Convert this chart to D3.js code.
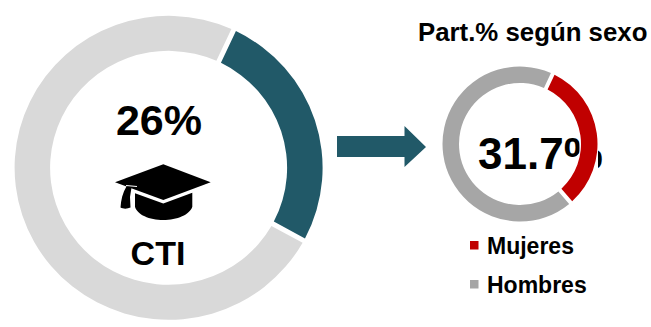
<!DOCTYPE html>
<html>
<head>
<meta charset="utf-8">
<script src="https://cdn.jsdelivr.net/npm/d3@7"></script>
<style>
  html, body { margin: 0; padding: 0; background: #fff; }
  svg { display: block; }
  text { font-family: "Liberation Sans", Arial, sans-serif; font-weight: bold; fill: #000; }
</style>
</head>
<body>
<svg></svg>
<script>
const ctiLabels = ['CTI', 'Resto'];
const ctiValues = [26, 74];
const sexLabels = ['Mujeres', 'Hombres'];
const sexValues = [31.7, 68.3];

const svg = d3.select('svg')
    .attr('width', 651)
    .attr('height', 327);

const startAngle = 25 * Math.PI / 180;

const pie = d3.pie()
    .sort(null)
    .startAngle(startAngle)
    .endAngle(startAngle + 2 * Math.PI);

function drawDonut(values, labels, colors, cx, cy, inner, outer, pad, sy) {
    const color = d3.scaleOrdinal().domain(labels).range(colors);
    const arc = d3.arc()
        .innerRadius(inner)
        .outerRadius(outer)
        .padAngle(pad / outer)
        .padRadius(outer);

    svg.append('g')
        .attr('transform', `translate(${cx}, ${cy}) scale(1, ${sy})`)
        .selectAll('path')
        .data(pie(values))
        .enter().append('path')
        .attr('fill', (d, i) => color(labels[i]))
        .attr('d', arc);
}

drawDonut(ctiValues, ctiLabels, ['#215968', '#d9d9d9'], 168.6, 167.8, 118.5, 154, 5, 0.987);

svg.append('text')
    .attr('x', 159)
    .attr('y', 135)
    .attr('text-anchor', 'middle')
    .attr('font-size', '43px')
    .text('26%');

svg.append('text')
    .attr('x', 158)
    .attr('y', 265)
    .attr('text-anchor', 'middle')
    .attr('font-size', '34px')
    .text('CTI');

// birrete
const cap = svg.append('g');
cap.append('path')
    .attr('d', 'M163.3,164.3 L210.7,182.3 L163.3,200 L115,182.3 Z');
cap.append('path')
    .attr('d', 'M135,193.3 L163.3,203.5 L192.3,192.7 L192.3,206.7 C190,214.5 177,220 163.3,220 C149.5,220 137,214.5 135,206.7 Z');
cap.append('path')
    .attr('d', 'M126.7,186 L131.5,187.5 L130,197 L130.5,207.5 C127.5,209 123,209 120.5,207.5 C121,200 122.5,193 126.7,186 Z');
cap.append('path')
    .attr('fill', 'none')
    .attr('stroke', '#fff')
    .attr('stroke-width', 1.2)
    .attr('d', 'M126,185.5 L137,186.5');

// flecha
svg.append('path')
    .attr('fill', '#215968')
    .attr('d', 'M337,136 L404.5,136 L404.5,126 L426,147 L404.5,167 L404.5,157 L337,157 Z');

svg.append('text')
    .attr('x', 418)
    .attr('y', 41)
    .attr('font-size', '25.8px')
    .text('Part.% según sexo');

// el anillo queda encima del texto, tapa parte del %
svg.append('text')
    .attr('x', 478)
    .attr('y', 169)
    .attr('font-size', '44px')
    .text('31.7%');

// en el original la barra del % queda oculta, solo asoma el borde
svg.append('path')
    .attr('fill', '#fff')
    .attr('d', 'M579.5,130 L598,130 L598,175 L566,175 L566,168 L579.5,153 Z');

drawDonut(sexValues, sexLabels, ['#c00000', '#a6a6a6'], 520, 144, 61, 77.5, 4, 1);

const legendY = d3.scalePoint()
    .domain(sexLabels)
    .range([254, 293]);
const legendColor = d3.scaleOrdinal().domain(sexLabels).range(['#c00000', '#a6a6a6']);

svg.selectAll('.swatch')
    .data(sexLabels)
    .enter().append('rect')
    .attr('class', 'swatch')
    .attr('x', 470)
    .attr('y', d => legendY(d) - 13)
    .attr('width', 8.5)
    .attr('height', 8.5)
    .attr('fill', d => legendColor(d));

svg.selectAll('.legend')
    .data(sexLabels)
    .enter().append('text')
    .attr('class', 'legend')
    .attr('x', 487)
    .attr('y', d => legendY(d))
    .attr('font-size', '23px')
    .text(d => d);
</script>
</body>
</html>
